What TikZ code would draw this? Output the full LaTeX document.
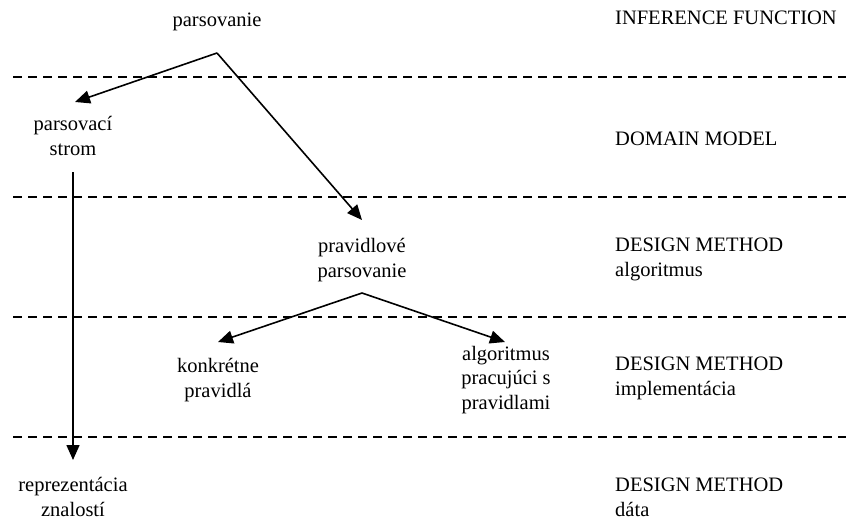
\documentclass[tikz,border=0pt]{standalone}
\usepackage{fontspec}
\setmainfont{Liberation Serif}
\usetikzlibrary{arrows.meta}
\begin{document}
\begin{tikzpicture}[x=1pt,y=-1pt,
  every node/.style={font=\fontsize{20.5}{24.5}\selectfont, inner sep=0pt},
  lbl/.style={anchor=base, align=center},
  layer/.style={anchor=base west, align=left},
  sep/.style={line width=1.5pt, dash pattern=on 9pt off 6pt},
  arr/.style={line width=1.6pt, -{Triangle[length=15pt,width=13pt]}},
  ln/.style={line width=1.6pt}]
\useasboundingbox (0,0) rectangle (846,519);

% layer separators
\draw[sep] (13,77) -- (846,77);
\draw[sep] (13,197) -- (846,197);
\draw[sep] (13,317) -- (846,317);
\draw[sep] (13,437) -- (846,437);

% layer names (anchored at the baseline of the last line)
\node[layer] (l1) at (615,25) {INFERENCE FUNCTION};
\node[layer] (l2) at (615,145) {DOMAIN MODEL};
\node[layer] (l3) at (615,276) {DESIGN METHOD\\algoritmus};
\node[layer] (l4) at (615,395) {DESIGN METHOD\\implementácia};
\node[layer] (l5) at (615,516) {DESIGN METHOD\\dáta};

% concepts
\node[lbl] (pars) at (217,27) {parsovanie};
\node[lbl] (tree) at (73,155) {parsovací\\strom};
\node[lbl] (rule) at (362,277) {pravidlové\\parsovanie};
\node[lbl] (conc) at (218,397) {konkrétne\\pravidlá};
\node[lbl] (algo) at (506,409) {algoritmus\\pracujúci s\\pravidlami};
\node[lbl] (repr) at (73,516) {reprezentácia\\znalostí};

% branch points and arrow ends
\coordinate (parsfork) at (217,53);
\coordinate (treein) at (75,102);
\coordinate (rulein) at (362,220);
\coordinate (rulefork) at (362,293);
\coordinate (concin) at (218,342);
\coordinate (algoin) at (505,342);
\coordinate (treeout) at (73,172);
\coordinate (reprin) at (73,460);

\draw[arr] (parsfork) -- (treein);
\draw[arr] (parsfork) -- (rulein);
\draw[arr] (rulefork) -- (concin);
\draw[arr] (rulefork) -- (algoin);
\draw[arr] (treeout) -- (reprin);
\end{tikzpicture}
\end{document}
